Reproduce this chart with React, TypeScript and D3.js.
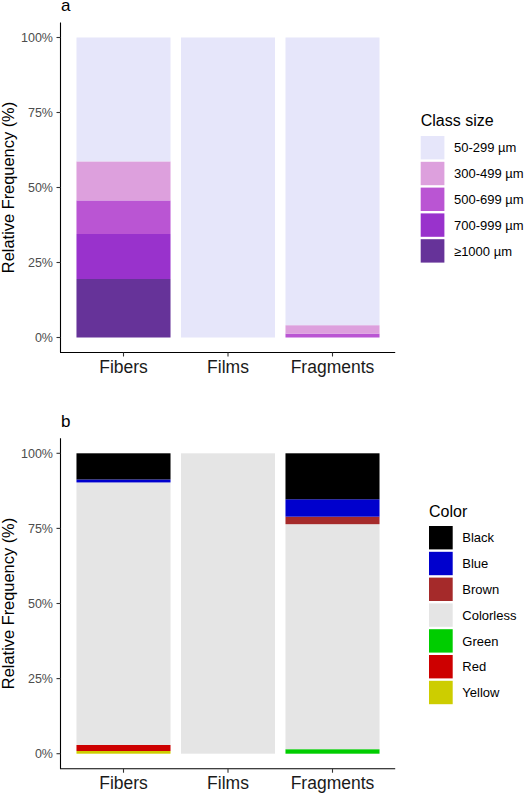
import React from "react";
import * as d3 from "d3";

const categories = ["Fibers", "Films", "Fragments"];

// Panel a: class size (% per category)
const sizeClasses = ["50-299 µm", "300-499 µm", "500-699 µm", "700-999 µm", "≥1000 µm"];
const sizeColors = ["#E6E6FA", "#DDA0DD", "#BA55D3", "#9932CC", "#663399"];
const size50_299 = [41.3, 100, 95.9];
const size300_499 = [13.0, 0, 2.8];
const size500_699 = [11.2, 0, 1.3];
const size700_999 = [15.0, 0, 0];
const size1000 = [19.5, 0, 0];

// Panel b: colour (% per category)
const colorClasses = ["Black", "Blue", "Brown", "Colorless", "Green", "Red", "Yellow"];
const colorFills = ["#000000", "#0000CD", "#A52A2A", "#E5E5E5", "#00CD00", "#CD0000", "#CDCD00"];
const black = [8.7, 0, 15.3];
const blue = [1.0, 0, 5.8];
const brown = [0, 0, 2.5];
const colorless = [87.4, 100, 74.9];
const green = [0, 0, 1.5];
const red = [2.0, 0, 0];
const yellow = [0.9, 0, 0];

const yTicks = [0, 25, 50, 75, 100];

const FONT = "'Liberation Sans', Arial, sans-serif";

type PanelProps = {
  label: string;
  labelY: number;
  top: number; // y pixel of 100%
  bottom: number; // y pixel of 0%
  classes: string[];
  fills: string[];
  values: number[][];
  legendTitle: string;
  legendX: number;
  legendTitleY: number;
  legendKeyY: number;
};

function Panel(p: PanelProps) {
  const x = d3
    .scaleBand<string>()
    .domain(categories)
    .range([60.8, 395.2])
    .paddingInner(0.1)
    .paddingOuter(0.15);
  const y = d3.scaleLinear().domain([0, 100]).range([p.bottom, p.top]);
  const expand = (p.bottom - p.top) * 0.05;
  const axisTop = p.top - expand;
  const axisBottom = p.bottom + expand;
  const axisX = 60.5;

  const rows = categories.map((c, i) => {
    const r: any = { cat: c };
    p.classes.forEach((k, j) => (r[k] = p.values[j][i]));
    return r;
  });
  const keys = p.classes.slice().reverse();
  const series = d3.stack<any>().keys(keys)(rows);

  const fillOf = (k: string) => p.fills[p.classes.indexOf(k)];
  const fmt = (v: number) => `${v}%`;

  return (
    <g>
      <text x={61} y={p.labelY} fontSize={17} fontFamily={FONT} fill="#000">
        {p.label}
      </text>
      {series.map((s) =>
        s.map((d, i) =>
          d[1] - d[0] > 0 ? (
            <rect
              key={s.key + i}
              x={x(categories[i])}
              width={x.bandwidth()}
              y={y(d[1])}
              height={y(d[0]) - y(d[1])}
              fill={fillOf(s.key)}
            />
          ) : null
        )
      )}
      {/* y axis */}
      <line x1={axisX} x2={axisX} y1={axisTop} y2={axisBottom} stroke="#000" strokeWidth={1.1} />
      {yTicks.map((t) => (
        <g key={t}>
          <line x1={axisX - 4} x2={axisX} y1={y(t)} y2={y(t)} stroke="#333" strokeWidth={1.1} />
          <text
            x={53}
            y={y(t)}
            dy="0.36em"
            textAnchor="end"
            fontSize={12.5}
            fontFamily={FONT}
            fill="#4D4D4D"
          >
            {fmt(t)}
          </text>
        </g>
      ))}
      <text
        transform={`translate(13.5,${(p.top + p.bottom) / 2}) rotate(-90)`}
        textAnchor="middle"
        fontSize={16.4}
        fontFamily={FONT}
        fill="#000"
      >
        Relative Frequency (%)
      </text>
      {/* x axis */}
      <line x1={axisX - 0.5} x2={395.2} y1={axisBottom} y2={axisBottom} stroke="#000" strokeWidth={1.1} />
      {categories.map((c) => {
        const cx = (x(c) as number) + x.bandwidth() / 2;
        return (
          <g key={c}>
            <line x1={cx} x2={cx} y1={axisBottom} y2={axisBottom + 4} stroke="#333" strokeWidth={1.1} />
            <text
              x={cx}
              y={axisBottom + 20.5}
              textAnchor="middle"
              fontSize={17.5}
              fontFamily={FONT}
              fill="#1A1A1A"
            >
              {c}
            </text>
          </g>
        );
      })}
      {/* legend */}
      <text x={p.legendX} y={p.legendTitleY} fontSize={16} fontFamily={FONT} fill="#000">
        {p.legendTitle}
      </text>
      {p.classes.map((k, j) => {
        const ky = p.legendKeyY + j * 25.8;
        return (
          <g key={k}>
            <rect x={p.legendX} y={ky} width={23.7} height={23.4} fill={p.fills[j]} />
            <text
              x={p.legendX + 33.3}
              y={ky + 11.7}
              dy="0.36em"
              fontSize={13}
              fontFamily={FONT}
              fill="#000"
            >
              {k}
            </text>
          </g>
        );
      })}
    </g>
  );
}

export default function App() {
  return (
    <svg
      width={524}
      height={793}
      style={{ position: "absolute", left: 0, top: 0, display: "block", background: "#fff" }}
    >
      <rect width={524} height={793} fill="#fff" />
      <Panel
        label="a"
        labelY={11}
        top={37.5}
        bottom={337.5}
        classes={sizeClasses}
        fills={sizeColors}
        values={[size50_299, size300_499, size500_699, size700_999, size1000]}
        legendTitle="Class size"
        legendX={420.7}
        legendTitleY={125.5}
        legendKeyY={136}
      />
      <Panel
        label="b"
        labelY={427}
        top={453.3}
        bottom={753.7}
        classes={colorClasses}
        fills={colorFills}
        values={[black, blue, brown, colorless, green, red, yellow]}
        legendTitle="Color"
        legendX={429}
        legendTitleY={516.5}
        legendKeyY={526}
      />
    </svg>
  );
}
